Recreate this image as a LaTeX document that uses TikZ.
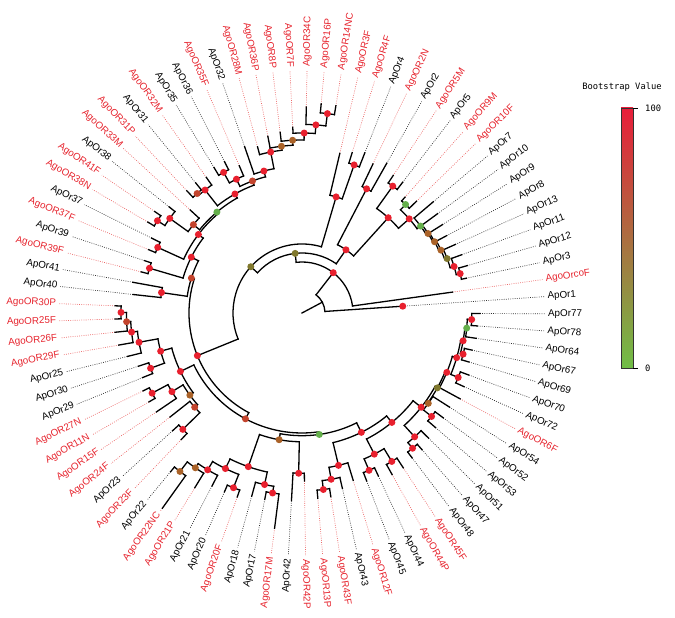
\documentclass[tikz,border=0pt]{standalone}
\usepackage{fontspec}
\setmainfont{Liberation Sans}
\newfontfamily\monofont{DejaVu Sans Mono}
\pgfdeclarelayer{fg}
\pgfsetlayers{main,fg}
\definecolor{cR}{RGB}{232,32,46}
\definecolor{cRB}{RGB}{195,68,45}
\definecolor{cB}{RGB}{170,98,40}
\definecolor{cO}{RGB}{128,120,45}
\definecolor{cG}{RGB}{100,175,75}
\definecolor{lblred}{RGB}{230,35,45}
\definecolor{dotred}{RGB}{236,105,105}
\definecolor{dotblk}{RGB}{50,50,50}
\definecolor{barTop}{RGB}{232,30,58}
\definecolor{barBot}{RGB}{112,190,70}
\tikzset{
  br/.style={line width=1.3pt, line cap=rect},
  dotl/.style={line width=0.7pt, dash pattern=on 0.8pt off 1.4pt},
  lbl/.style={font=\fontsize{9.8}{11}\selectfont, inner sep=0pt},
  mono/.style={font=\monofont\fontsize{8.8}{10}\selectfont, inner sep=0pt}
}
% leaf: index k, tip radius, text, r/b
\newcommand\lf[4]{%
  \pgfmathsetmacro\la{3.86+4.045*mod(91-#1,89)}%
  \expandafter\xdef\csname a@k#1\endcsname{\la}%
  \expandafter\xdef\csname r@k#1\endcsname{#2}%
  \ifx r#4\def\lc{lblred}\def\dc{dotred}\else\def\lc{black}\def\dc{dotblk}\fi
  \draw[dotl,\dc] (\la:#2pt) -- (\la:243pt);
  \ifdim\la pt<90pt
    \node[lbl,text=\lc,anchor=west,rotate=\la] (lab#1) at (\la:246pt) {#3};
  \else\ifdim\la pt<270pt
    \pgfmathsetmacro\lrot{\la-180}%
    \node[lbl,text=\lc,anchor=east,rotate=\lrot] (lab#1) at (\la:246pt) {#3};
  \else
    \node[lbl,text=\lc,anchor=west,rotate=\la] (lab#1) at (\la:246pt) {#3};
  \fi\fi
}
% internal node: id, radius, children, dot colour
\newcommand\nd[4]{%
  \gdef\amin{1000}\gdef\amax{-1000}%
  \foreach \ch in {#3}{%
    \pgfmathsetmacro\ac{\csname a@\ch\endcsname}%
    \pgfmathsetmacro\tmpa{min(\amin,\ac)}\global\let\amin\tmpa
    \pgfmathsetmacro\tmpb{max(\amax,\ac)}\global\let\amax\tmpb
  }%
  \pgfmathsetmacro\amid{(\amin+\amax)/2}%
  \expandafter\xdef\csname a@#1\endcsname{\amid}%
  \expandafter\xdef\csname r@#1\endcsname{#2}%
  \coordinate (#1) at (\amid:#2pt);
  \draw[br] (\amin:#2pt) arc[start angle=\amin, end angle=\amax, radius=#2pt];
  \foreach \ch in {#3}{%
    \edef\ca{\csname a@\ch\endcsname}\edef\chr{\csname r@\ch\endcsname}%
    \draw[br] (\ca:#2pt) -- (\ca:\chr pt);
  }%
  \ifx\relax#4\relax\else
    \begin{pgfonlayer}{fg}\fill[#4] (#1) circle[radius=3.5pt];\end{pgfonlayer}%
  \fi
}
\begin{document}
\begin{tikzpicture}[x=1pt,y=1pt]
\useasboundingbox (0,0) rectangle (675,618);
\begin{scope}[shift={(302,305)}]
\lf{1}{152}{AgoOrcoF}{r}
\lf{2}{101}{ApOr1}{b}
\lf{3}{178}{ApOr77}{b}
\lf{4}{176}{ApOr78}{b}
\lf{5}{176}{ApOr64}{b}
\lf{6}{174}{ApOr67}{b}
\lf{7}{174}{ApOr69}{b}
\lf{8}{178}{ApOr70}{b}
\lf{9}{178}{ApOr72}{b}
\lf{10}{180}{AgoOR6F}{r}
\lf{11}{175}{ApOr54}{b}
\lf{12}{176}{ApOr52}{b}
\lf{13}{176}{ApOr53}{b}
\lf{14}{178}{ApOr51}{b}
\lf{15}{182}{ApOr47}{b}
\lf{16}{182}{ApOr48}{b}
\lf{17}{185}{AgoOR45F}{r}
\lf{18}{185}{AgoOR44P}{r}
\lf{19}{180}{ApOr44}{b}
\lf{20}{180}{ApOr45}{b}
\lf{21}{175}{AgoOR12F}{r}
\lf{22}{180}{ApOr43}{b}
\lf{23}{186}{AgoOR43F}{r}
\lf{24}{186}{AgoOR13P}{r}
\lf{25}{168}{AgoOR42P}{r}
\lf{26}{188}{ApOr42}{b}
\lf{27}{217}{AgoOR17M}{r}
\lf{28}{190}{ApOr17}{b}
\lf{29}{190}{ApOr18}{b}
\lf{30}{195}{AgoOR20F}{r}
\lf{31}{195}{ApOr20}{b}
\lf{32}{195}{ApOr21}{b}
\lf{33}{205}{AgoOR21P}{r}
\lf{34}{240}{AgoOR22NC}{r}
\lf{35}{206}{ApOr22}{b}
\lf{36}{175}{AgoOR23F}{r}
\lf{37}{175}{ApOr23}{b}
\lf{38}{168}{AgoOR24F}{r}
\lf{39}{176}{AgoOR15F}{r}
\lf{40}{177}{AgoOR11N}{r}
\lf{41}{177}{AgoOR27N}{r}
\lf{42}{172}{ApOr29}{b}
\lf{43}{172}{ApOr30}{b}
\lf{44}{180}{ApOr25}{b}
\lf{45}{186}{AgoOR29F}{r}
\lf{46}{188}{AgoOR26F}{r}
\lf{47}{187}{AgoOR25F}{r}
\lf{48}{187}{AgoOR30P}{r}
\lf{49}{170}{ApOr40}{b}
\lf{50}{172}{ApOr41}{b}
\lf{51}{166}{AgoOR39F}{r}
\lf{52}{166}{ApOr39}{b}
\lf{53}{166}{AgoOR37F}{r}
\lf{54}{168}{ApOr37}{b}
\lf{55}{179}{AgoOR38N}{r}
\lf{56}{179}{AgoOR41F}{r}
\lf{57}{170}{ApOr38}{b}
\lf{58}{152}{AgoOR33M}{r}
\lf{59}{168}{AgoOR31P}{r}
\lf{60}{168}{ApOr31}{b}
\lf{61}{166}{AgoOR32M}{r}
\lf{62}{170}{ApOr35}{b}
\lf{63}{170}{ApOr36}{b}
\lf{64}{160}{AgoOR35F}{r}
\lf{65}{176}{ApOr32}{b}
\lf{66}{172}{AgoOR28M}{r}
\lf{67}{180}{AgoOR36P}{r}
\lf{68}{182}{AgoOR8P}{r}
\lf{69}{186}{AgoOR7F}{r}
\lf{70}{206}{AgoOR34C}{r}
\lf{71}{210}{AgoOR16P}{r}
\lf{72}{210}{AgoOR14NC}{r}
\lf{73}{164}{AgoOR3F}{r}
\lf{74}{168}{AgoOR4F}{r}
\lf{75}{172}{ApOr4}{b}
\lf{76}{165}{AgoOR2N}{r}
\lf{77}{172}{ApOr2}{b}
\lf{78}{165}{AgoOR5M}{r}
\lf{79}{165}{ApOr5}{b}
\lf{80}{155}{AgoOR9M}{r}
\lf{81}{160}{AgoOR10F}{r}
\lf{82}{172}{ApOr7}{b}
\lf{83}{168}{ApOr10}{b}
\lf{84}{166}{ApOr9}{b}
\lf{85}{164}{ApOr8}{b}
\lf{86}{168}{ApOr13}{b}
\lf{87}{170}{ApOr11}{b}
\lf{88}{172}{ApOr12}{b}
\lf{89}{168}{ApOr3}{b}
% right-top clade
\nd{d1}{163}{k88,k89}{cR}
\nd{d2}{159}{d1,k87}{cR}
\nd{d3}{155}{d2,k86}{cO}
\nd{d4}{152.5}{d3,k85}{cB}
\nd{d5}{150.5}{d4,k84}{cB}
\nd{d6}{149}{d5,k83}{cB}
\nd{d7}{147}{d6,k82}{cG}
\nd{p910}{150}{k80,k81}{cG}
\nd{d9}{142.7}{p910,d7}{cR}
\nd{n54}{156}{k78,k79}{cR}
\nd{W2}{128.5}{n54,d9}{cR}
\nd{W1}{140}{k76,k77}{cR}
\nd{W}{77}{W1,W2}{cR}
\nd{t1}{157}{k74,k75}{cR}
\nd{T}{121}{k73,t1}{cR}
% top ladder
\nd{u1}{201}{k71,k72}{cR}
\nd{u2}{188.6}{k70,u1}{cR}
\nd{u3}{180}{k69,u2}{cR}
\nd{u4}{173}{k68,u3}{cB}
\nd{u5}{168}{k67,u4}{cB}
\nd{u6}{164}{k66,u5}{cR}
\nd{u7}{147}{k65,u6}{cR}
\nd{u8}{161}{k62,k63}{cR}
\nd{u9}{149}{k64,u8}{cR}
\nd{B110}{141}{u9,u7}{cRB}
% upper left
\nd{v1}{159}{k59,k60}{cRB}
\nd{v2}{156.6}{k61,v1}{cR}
\nd{R119}{136.6}{B110,v2}{cR}
\nd{v3}{171.5}{k55,k56}{cR}
\nd{v4}{162.6}{k57,v3}{cR}
\nd{B140}{140}{k58,v4}{cRB}
\nd{G1}{132}{R119,B140}{cG}
\nd{v5}{158.5}{k53,k54}{cR}
\nd{A}{130}{G1,v5}{cR}
\nd{v6}{159}{k51,k52}{cR}
\nd{K1}{124}{A,v6}{cR}
\nd{K2}{142}{k49,k50}{cR}
\nd{K}{116}{K1,K2}{cRB}
% left
\nd{w1}{181}{k47,k48}{cR}
\nd{w2}{175.6}{k46,w1}{cRB}
\nd{w3}{171.5}{k45,w2}{cR}
\nd{w4}{165.6}{k44,w3}{cR}
\nd{w5}{161.2}{k42,k43}{cR}
\nd{w6}{146.4}{w4,w5}{cR}
\nd{w7}{170}{k40,k41}{cR}
\nd{w8}{152}{k39,w7}{cR}
\nd{w9}{166.6}{k36,k37}{cR}
\nd{w10}{142.8}{k38,w9}{cRB}
\nd{B217}{139}{w8,w10}{cB}
\nd{R206}{134.9}{w6,B217}{cR}
% bottom
\nd{x1}{200}{k34,k35}{cB}
\nd{x2}{188}{k33,x1}{cB}
\nd{x3}{183}{k32,x2}{cR}
\nd{x4}{187.7}{k30,k31}{cR}
\nd{x5}{173.4}{x3,x4}{cR}
\nd{x6}{182.4}{k27,k28}{cR}
\nd{x7}{175.6}{k29,x6}{cR}
\nd{x8}{162.8}{x5,x7}{cR}
\nd{x9}{160.3}{k25,k26}{cR}
\nd{H}{128.8}{x8,x9}{cB}
% bottom right
\nd{y1}{177.8}{k23,k24}{cR}
\nd{y2}{168.8}{k22,y1}{cR}
\nd{y3}{156.7}{k21,y2}{cR}
\nd{y4}{171}{k19,k20}{cR}
\nd{y5}{173.5}{k17,k18}{cR}
\nd{Q1}{158.6}{y4,y5}{cR}
\nd{z1}{174.7}{k15,k16}{cR}
\nd{z2}{167.4}{k14,z1}{cR}
\nd{z3}{165.8}{k12,k13}{cR}
\nd{z4}{155.3}{k11,z3}{cB}
\nd{s1}{169.8}{k3,k4}{cR}
\nd{s2}{165.4}{k5,s1}{cG}
\nd{s3}{166.3}{k6,k7}{cR}
\nd{s4}{163.5}{s2,s3}{cR}
\nd{s5}{169}{k8,k9}{cR}
\nd{s6}{161}{s4,s5}{cR}
\nd{s7}{156.5}{k10,s6}{cR}
\nd{o1}{154.7}{s7,z4}{cO}
\nd{r321}{152}{o1,z2}{cR}
\nd{R309}{141.6}{Q1,r321}{cR}
\nd{Q}{133.3}{y3,R309}{cR}
\nd{G}{122.7}{H,Q}{cG}
\nd{M}{120}{R206,G}{cRB}
\nd{L}{113}{K,M}{cR}
\nd{Z}{69}{T,L}{cO}
\nd{Y}{60}{Z,W}{cO}
\nd{X}{51}{k1,Y}{cR}
\nd{root}{23}{k2,X}{}
\coordinate (ctr) at (0,0);
\draw[br] (ctr) -- (root);
\begin{pgfonlayer}{fg}\fill[cR] (3.86:101pt) circle[radius=3.5pt];\end{pgfonlayer}
\end{scope}
% legend
\node[mono] (bt) at (622,531) {Bootstrap Value};
\shade[top color=barTop, bottom color=barBot] (621,250) rectangle (633,510);
\draw[line width=0.6pt, black!80] (621,250) rectangle (633,510);
\coordinate (tkT) at (633,510);
\coordinate (tkB) at (633,250);
\draw[line width=0.6pt] (tkT) -- ++(5,0);
\draw[line width=0.6pt] (tkB) -- ++(5,0);
\node[mono,anchor=west] (v100) at (645,510) {100};
\node[mono,anchor=west] (v0) at (645,250) {0};
\end{tikzpicture}
\end{document}
